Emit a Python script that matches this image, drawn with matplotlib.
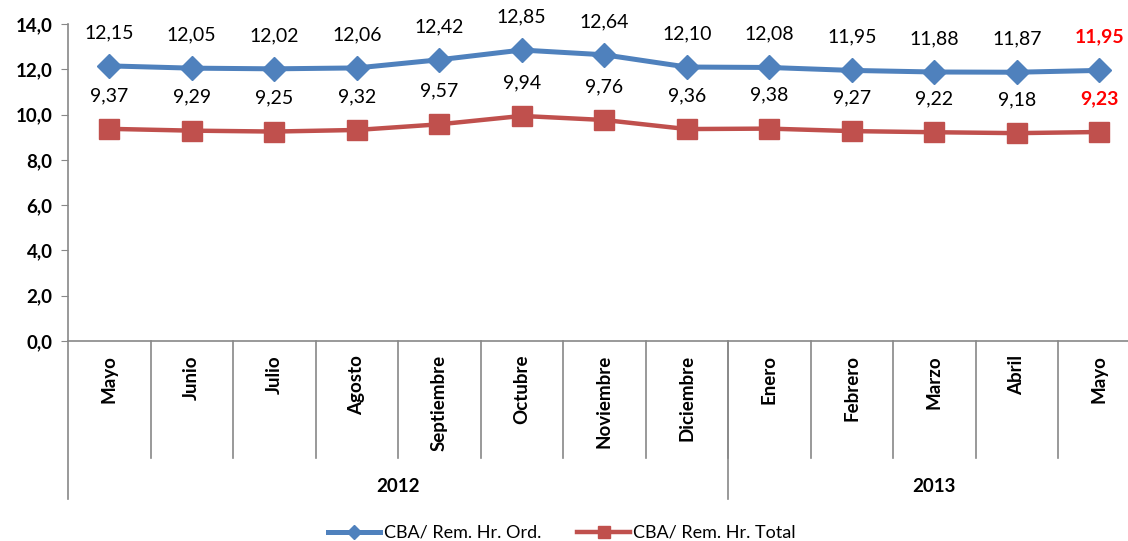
import matplotlib
matplotlib.use("Agg")
import matplotlib.pyplot as plt
from matplotlib.ticker import FuncFormatter

plt.rcParams['font.family'] = ['Lato', 'DejaVu Sans']

months = ["Mayo", "Junio", "Julio", "Agosto", "Septiembre", "Octubre", "Noviembre",
          "Diciembre", "Enero", "Febrero", "Marzo", "Abril", "Mayo"]
years = ["2012", "2013"]
year_counts = [8, 5]
ord_vals = [12.15, 12.05, 12.02, 12.06, 12.42, 12.85, 12.64, 12.10, 12.08, 11.95, 11.88, 11.87, 11.95]
total_vals = [9.37, 9.29, 9.25, 9.32, 9.57, 9.94, 9.76, 9.36, 9.38, 9.27, 9.22, 9.18, 9.23]

blue = "#4F81BD"
red = "#C0504D"
grey = "#888888"

W, H = 1128, 541
fig = plt.figure(figsize=(W / 100, H / 100), dpi=100)
left, right, top, bottom = 68, 1140.5, 24, 341
ax = fig.add_axes([left / W, 1 - bottom / H, (right - left) / W, (bottom - top) / H])

x = list(range(len(months)))
l1, = ax.plot(x, ord_vals, color=blue, lw=3.6, marker="D", ms=12, label="CBA/ Rem. Hr. Ord.",
              clip_on=False, zorder=3)
l2, = ax.plot(x, total_vals, color=red, lw=3.2, marker="s", ms=14, label="CBA/ Rem. Hr. Total",
              clip_on=False, zorder=3)

def fmt(v):
    return f"{v:.2f}".replace(".", ",")

for vals in (ord_vals, total_vals):
    for i, v in enumerate(vals):
        last = i == len(vals) - 1
        ax.annotate(fmt(v), (i, v), xytext=(0, 24), textcoords="offset points",
                    ha="center", va="center", fontsize=14,
                    color="#FF0000" if last else "black",
                    fontweight="bold" if last else "normal")

ax.set_xlim(-0.5, len(months) - 0.5)
ax.set_ylim(0, 14)
ax.set_yticks(range(0, 15, 2))
ax.yaxis.set_major_formatter(FuncFormatter(lambda v, p: f"{v:.1f}".replace(".", ",")))
ax.tick_params(axis="y", direction="out", length=5, color=grey, labelsize=13.5, pad=6)
for lab in ax.get_yticklabels():
    lab.set_fontweight("bold")
ax.set_xticks([])

for s in ["top", "right"]:
    ax.spines[s].set_visible(False)
ax.spines["left"].set_color(grey)
ax.spines["bottom"].set_color(grey)
ax.spines["left"].set_linewidth(1.2)
ax.spines["bottom"].set_linewidth(1.2)

# multi-level category axis
trans = ax.get_xaxis_transform()
sep_low = -(458 - bottom) / (bottom - top)
year_low = -(499 - bottom) / (bottom - top)
for i in range(1, len(months)):
    ax.plot([i - 0.5, i - 0.5], [0, sep_low], transform=trans, color=grey, lw=1.2, clip_on=False)
ax.plot([-0.5, -0.5], [0, year_low], transform=trans, color=grey, lw=1.2, clip_on=False)
for i, m in enumerate(months):
    ax.text(i, -(355 - bottom) / (bottom - top), m, transform=trans, rotation=90,
            ha="center", va="top", fontsize=13.5, fontweight="bold")

start = 0
for yr, n in zip(years, year_counts):
    end = start + n
    if start > 0:
        ax.plot([start - 0.5, start - 0.5], [0, year_low], transform=trans, color=grey,
                lw=1.2, clip_on=False)
    ax.text((start + end - 1) / 2, -(487 - bottom) / (bottom - top), yr, transform=trans,
            ha="center", va="center", fontsize=13.5, fontweight="bold")
    start = end

fig.legend(handles=[l1, l2], loc="center", bbox_to_anchor=(562 / W, 1 - 533 / H), ncol=2,
           frameon=False, fontsize=13, handlelength=2.9, columnspacing=2.0, handletextpad=0.2,
           markerscale=0.6)

fig.savefig("out.png", dpi=100)
